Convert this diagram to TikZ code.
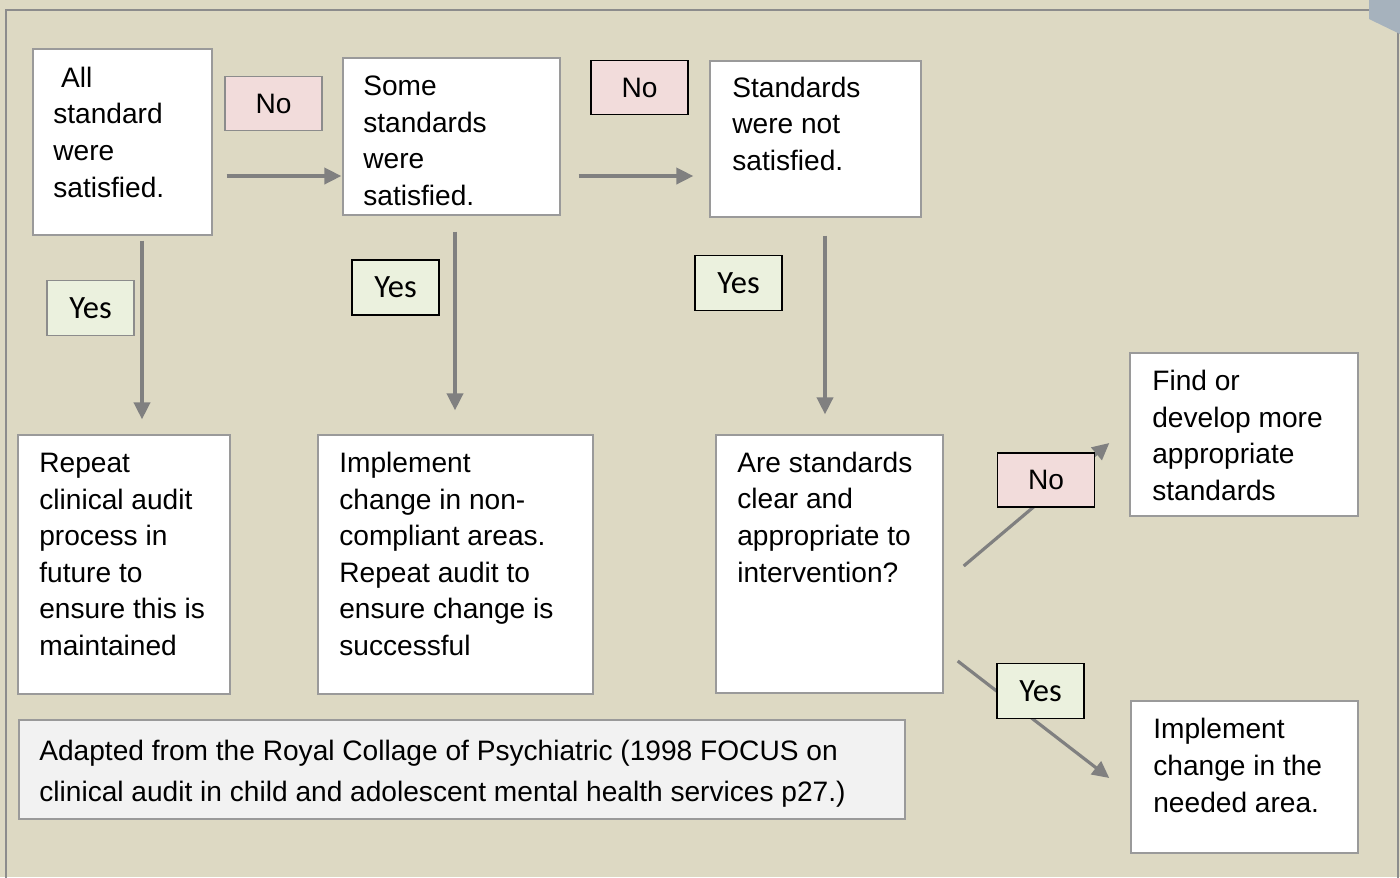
\documentclass[tikz,border=0pt]{standalone}
\usepackage{fontspec}
\setmainfont{Liberation Sans}
\newfontfamily\yesfont{Carlito}
\usetikzlibrary{arrows.meta,fit}

\definecolor{paper}{HTML}{DDD9C3}
\definecolor{framegray}{HTML}{8C8C8C}
\definecolor{boxgray}{HTML}{9A9A9A}
\definecolor{arrowgray}{HTML}{808080}
\definecolor{nopink}{HTML}{F2DCDB}
\definecolor{yesgreen}{HTML}{EBF1DE}
\definecolor{notegray}{HTML}{F2F2F2}
\definecolor{foldblue}{HTML}{A6B2BD}

\tikzset{
  box/.style={draw=boxgray,line width=0.8pt,fill=white,inner sep=0pt},
  % text blocks are placed by the baseline of their last line
  txt/.style={anchor=base west,align=left,inner sep=0pt,
    font=\fontsize{16}{20.8}\selectfont},
  arr/.style={draw=arrowgray,line width=1.8pt,
    -{Triangle[length=9.6pt,width=9.2pt]}},
  nolbl/.style={draw=black,line width=0.6pt,fill=nopink,
    minimum width=1.94cm,minimum height=1.08cm,
    font=\fontsize{16}{19}\selectfont},
  yeslbl/.style={draw=black,line width=0.6pt,fill=yesgreen,
    minimum width=1.74cm,minimum height=1.1cm,
    font=\yesfont\fontsize{18.5}{21}\selectfont},
}

\begin{document}
\begin{tikzpicture}[x=0.02cm,y=-0.02cm]
\useasboundingbox (0,0) rectangle (1400,877);
\fill[paper] (0,0) rectangle (1400,877);
\draw[framegray,line width=0.85pt] (6,890) -- (6,10) -- (1398,10) -- (1398,890);
\fill[foldblue] (1369,0) -- (1400,0) -- (1400,34) -- (1369,19) -- cycle;

% top row
\node[box,fit={(33,49) (212,235)}] (all) {};
\node[txt] (all-t) at (53,197) {\ All\\standard\\were\\satisfied.};
\node[box,fit={(343,58) (560,215)}] (some) {};
\node[txt] (some-t) at (363,205.5) {Some\\standards\\were\\satisfied.};
\node[box,fit={(710,61) (921,217)}] (none) {};
\node[txt] (none-t) at (732,170.5) {Standards\\were not\\satisfied.};

% outcome row
\node[box,fit={(18,435) (230,694)}] (repeat) {};
\node[txt] (repeat-t) at (39,655.5) {Repeat\\clinical audit\\process in\\future to\\ensure this is\\maintained};
\node[box,fit={(318,435) (593,694)}] (change) {};
\node[txt] (change-t) at (339,655.5) {Implement\\change in non-\\compliant areas.\\Repeat audit to\\ensure change is\\successful};
\node[box,fit={(716,435) (943,693)}] (quest) {};
\node[txt] (quest-t) at (737,582) {Are standards\\clear and\\appropriate to\\intervention?};
\node[box,fit={(1130,353) (1358,516)}] (find) {};
\node[txt] (find-t) at (1152,500.5) {Find or\\develop more\\appropriate\\standards};
\node[box,fit={(1131,701) (1358,853)}] (needed) {};
\node[txt] (needed-t) at (1153,812) {Implement\\change in the\\needed area.};

% source note
\node[box,fill=notegray,fit={(19,720) (905,819)}] (note) {};
\node[txt,font=\fontsize{16}{23.2}\selectfont] (note-t) at (39,801)
  {Adapted from the Royal Collage of Psychiatric (1998 FOCUS on\\clinical audit in child and adolescent mental health services p27.)};

% connectors
\draw[arr,shorten <=0.28cm,shorten >=0.02cm] (all.east |- 0,176) -- (some.west |- 0,176);
\draw[arr,shorten <=0.36cm,shorten >=0.32cm] (some.east |- 0,176) -- (none.west |- 0,176);
\draw[arr,shorten <=0.1cm,shorten >=0.3cm] (all.south -| 142,0) -- (repeat.north -| 142,0);
\draw[arr,shorten <=0.32cm,shorten >=0.48cm] (some.south -| 455,0) -- (change.north -| 455,0);
\draw[arr,shorten <=0.36cm,shorten >=0.4cm] (none.south -| 825,0) -- (quest.north -| 825,0);
\draw[arr] ([shift={(20,2)}]quest.east) -- ([shift={(-20,8.5)}]find.west);
\draw[arr] ([shift={(14,97)}]quest.east) -- ([shift={(-21,1)}]needed.west);

% decision labels
\node[nolbl,draw=framegray] (no1) at (273.5,103.5) {No};
\node[nolbl] (no2) at (639.5,87.5) {No};
\node[nolbl] (no3) at (1046,480) {No};
\node[yeslbl,draw=framegray] (yes1) at (90.5,308) {Yes};
\node[yeslbl] (yes2) at (395.5,287.5) {Yes};
\node[yeslbl] (yes3) at (738.5,283) {Yes};
\node[yeslbl] (yes4) at (1040.5,691) {Yes};
\end{tikzpicture}
\end{document}
